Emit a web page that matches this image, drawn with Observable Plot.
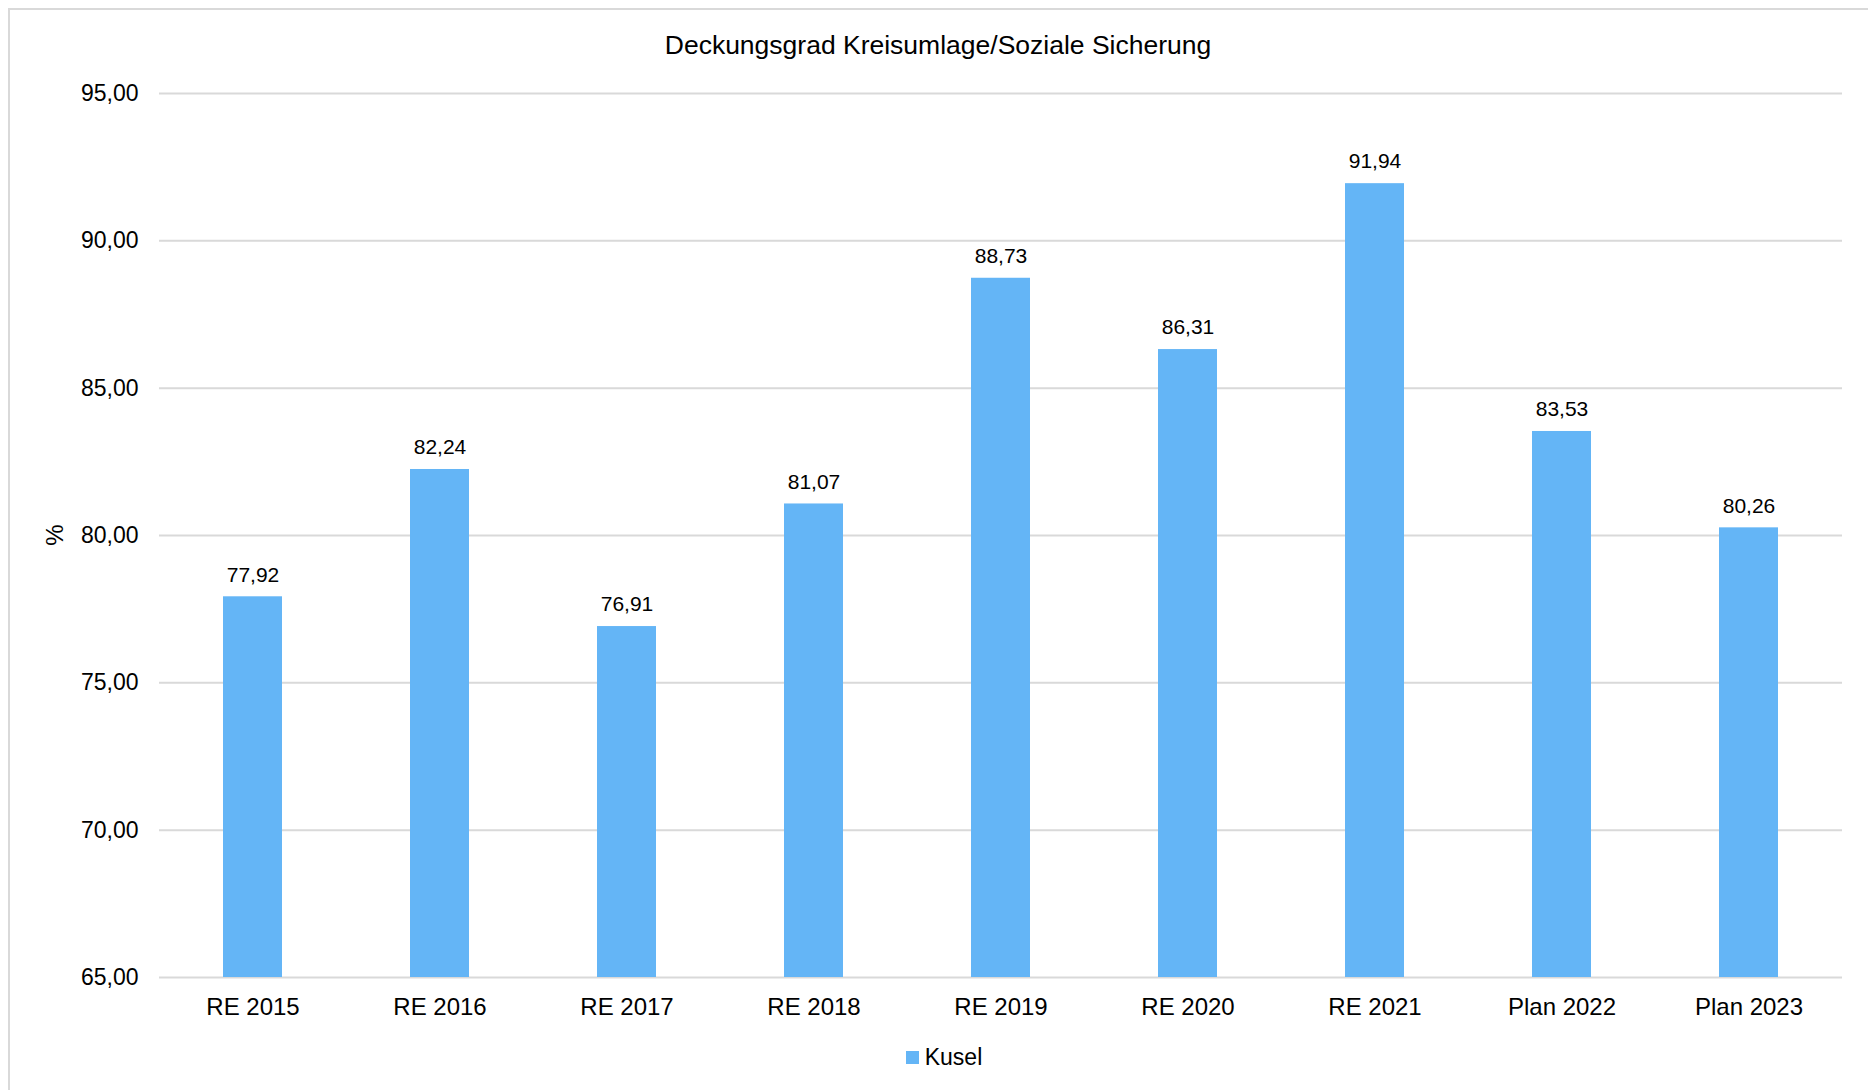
<!DOCTYPE html>
<html>
<head>
<meta charset="utf-8">
<script src="https://cdn.jsdelivr.net/npm/d3@7"></script>
<script src="https://cdn.jsdelivr.net/npm/@observablehq/plot@0.6"></script>
<style>
  html, body { margin: 0; padding: 0; background: #fff; overflow: hidden; }
  body { width: 1868px; height: 1090px; position: relative; font-family: "Liberation Sans", Arial, sans-serif; color: #000; }
  #frame { position: absolute; left: 8px; top: 8px; width: 1900px; height: 1120px; border-left: 2px solid #d9d9d9; border-top: 2px solid #d9d9d9; box-sizing: border-box; }
  #title { position: absolute; left: 8px; width: 1860px; top: 29px; text-align: center; font-size: 26.5px; line-height: 32px; }
  #chart { position: absolute; left: 0; top: 60px; }
  #ylabel { position: absolute; left: 55px; top: 535px; transform: translate(-50%, -50%) rotate(-90deg); font-size: 24px; line-height: 24px; }
  #legend { position: absolute; top: 1043px; left: 0; width: 1868px; text-align: center; font-size: 23px; line-height: 28px; }
  #legend .sw { display: inline-block; width: 13px; height: 13px; background: #64b5f6; margin-right: 6px; vertical-align: 1px; }
  #legend .item { margin-left: 20px; }
</style>
</head>
<body>
<div id="frame"></div>
<div id="title">Deckungsgrad Kreisumlage/Soziale Sicherung</div>
<div id="chart"></div>
<div id="ylabel">%</div>
<div id="legend"><span class="item"><span class="sw"></span>Kusel</span></div>
<script>
const categories = ["RE 2015", "RE 2016", "RE 2017", "RE 2018", "RE 2019", "RE 2020", "RE 2021", "Plan 2022", "Plan 2023"];
const values = [77.92, 82.24, 76.91, 81.07, 88.73, 86.31, 91.94, 83.53, 80.26];
const yTicks = [65, 70, 75, 80, 85, 90, 95];
const seriesName = "Kusel";
const baseline = 65;

const data = categories.map((c, i) => ({category: c, value: values[i], series: seriesName}));
const fmt = v => v.toFixed(2).replace(".", ",");
const barColor = "#64b5f6";

const chart = Plot.plot({
  width: 1868,
  height: 980,
  marginLeft: 159,
  marginRight: 26,
  marginTop: 33,
  marginBottom: 63,
  style: {fontFamily: "'Liberation Sans', Arial, sans-serif", background: "transparent", color: "#000"},
  x: {domain: categories, paddingInner: 0.685, paddingOuter: 0.3425, label: null},
  y: {domain: [65, 95], label: null},
  marks: [
    Plot.gridY(yTicks, {stroke: "#d9d9d9", strokeOpacity: 1, strokeWidth: 2}),
    Plot.axisY(yTicks, {tickSize: 0, tickPadding: 21, tickFormat: fmt, fontSize: 23, label: null}),
    Plot.axisX({tickSize: 0, tickPadding: 20, fontSize: 24, label: null}),
    Plot.barY(data, {x: "category", y1: () => baseline, y2: "value", fill: barColor}),
    Plot.text(data, {x: "category", y: "value", text: d => fmt(d.value), dy: -22, fontSize: 21, fill: "#000"})
  ]
});
document.getElementById("chart").appendChild(chart);
</script>
</body>
</html>
